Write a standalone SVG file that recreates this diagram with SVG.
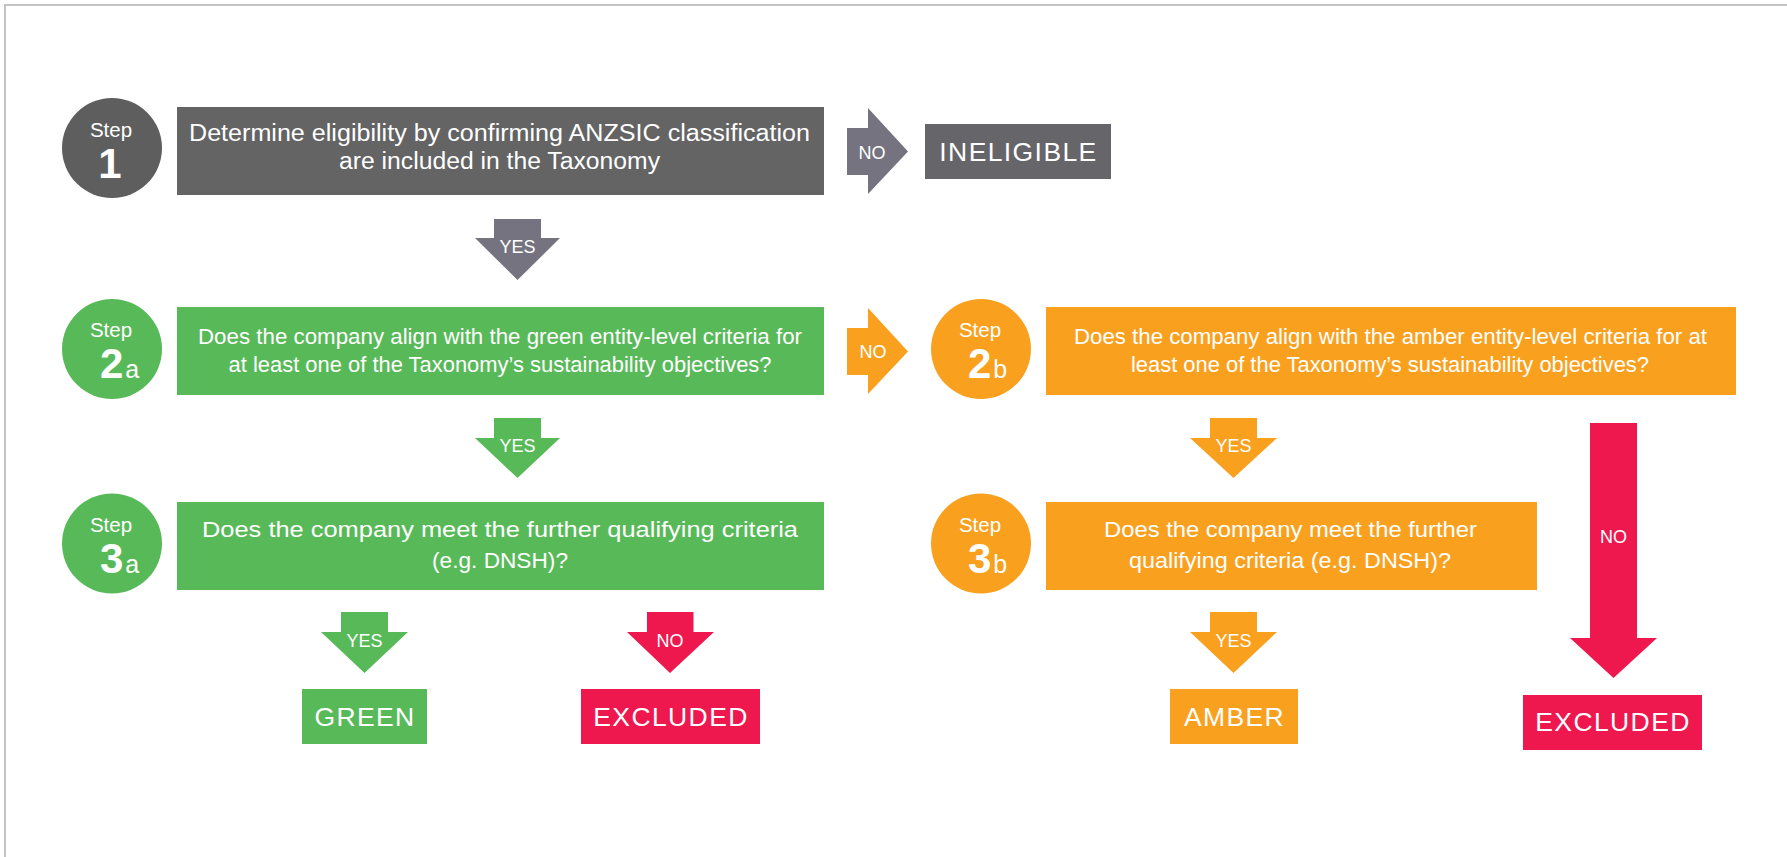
<svg xmlns="http://www.w3.org/2000/svg" width="1787" height="857" viewBox="0 0 1787 857">
<style>
.t{font-family:"Liberation Sans",Arial,sans-serif;fill:#fff}
.q{font-size:22.5px;text-anchor:middle}
.q1{font-size:23px;text-anchor:middle}
.step{font-size:20.5px;text-anchor:middle}
.num{font-size:42px;font-weight:bold}
.sub{font-size:25px}
.lab{font-size:18px;text-anchor:middle}
.out{font-size:26.5px;letter-spacing:1.4px;text-anchor:middle}
.grey{fill:#646464}
.greyc{fill:#5e5e5e}
.arrg{fill:#74737f}
.green{fill:#58b959}
.amber{fill:#f9a11f}
.red{fill:#ee184e}
</style>
<rect width="1787" height="857" fill="#fff"/>
<path d="M5,857 V5 H1787" fill="none" stroke="#c4c4c4" stroke-width="2"/>

<g id="connectors">
  <g id="c1-yes"><polygon class="arrg" points="494,219 541,219 541,238 560,238 517.5,280 475,238 494,238"/><text class="t lab" x="517.5" y="253">YES</text></g>
  <g id="c1-no"><polygon class="arrg" points="847,128 868,128 868,108 908,151.5 868,194 868,175 847,175"/><text class="t lab" x="872" y="159">NO</text></g>
  <g id="c2a-yes"><polygon class="green" points="494,418 541,418 541,438 560,438 517.5,478 475,438 494,438"/><text class="t lab" x="517.5" y="452">YES</text></g>
  <g id="c2a-no"><polygon class="amber" points="847,328 868,328 868,308 908,351.5 868,394 868,375 847,375"/><text class="t lab" x="873" y="358">NO</text></g>
  <g id="c3a-yes"><polygon class="green" points="341,612 388,612 388,632 408,632 364.5,673 321,632 341,632"/><text class="t lab" x="364.5" y="647">YES</text></g>
  <g id="c3a-no"><polygon class="red" points="647,612 693.5,612 693.5,632 714,632 670,673 627,632 647,632"/><text class="t lab" x="670" y="647">NO</text></g>
  <g id="c2b-yes"><polygon class="amber" points="1210,418 1257,418 1257,438 1277,438 1233.5,478 1190,438 1210,438"/><text class="t lab" x="1233.5" y="452">YES</text></g>
  <g id="c3b-yes"><polygon class="amber" points="1210,612 1257,612 1257,632 1277,632 1233.5,673 1190,632 1210,632"/><text class="t lab" x="1233.5" y="647">YES</text></g>
  <g id="c2b-no"><polygon class="red" points="1590,423 1637,423 1637,638 1657,638 1613.5,678 1570,638 1590,638"/><text class="t lab" x="1613.5" y="543">NO</text></g>
</g>

<g id="step1">
  <circle class="greyc" cx="112" cy="148" r="50"/>
  <text class="t step" x="111" y="137">Step</text>
  <text class="t num" x="110" y="178" text-anchor="middle">1</text>
  <rect class="grey" x="177" y="107" width="647" height="88"/>
  <text class="t q1" x="499.5" y="141" textLength="621" lengthAdjust="spacingAndGlyphs">Determine eligibility by confirming ANZSIC classification</text>
  <text class="t q1" x="499.5" y="169" textLength="321" lengthAdjust="spacingAndGlyphs">are included in the Taxonomy</text>
</g>
<g id="ineligible">
  <rect fill="#65656a" x="925" y="124" width="186" height="55"/>
  <text class="t out" x="1018.5" y="161">INELIGIBLE</text>
</g>

<g id="step2a">
  <circle class="green" cx="112" cy="349" r="50"/>
  <text class="t step" x="111" y="337">Step</text>
  <text class="t" x="100" y="378"><tspan class="num">2</tspan><tspan class="sub" dx="2">a</tspan></text>
  <rect class="green" x="177" y="307" width="647" height="88"/>
  <text class="t q" x="500" y="344" textLength="604" lengthAdjust="spacingAndGlyphs">Does the company align with the green entity-level criteria for</text>
  <text class="t q" x="500" y="372" textLength="543" lengthAdjust="spacingAndGlyphs">at least one of the Taxonomy’s sustainability objectives?</text>
</g>

<g id="step2b">
  <circle class="amber" cx="981" cy="349" r="50"/>
  <text class="t step" x="980" y="337">Step</text>
  <text class="t" x="968" y="378"><tspan class="num">2</tspan><tspan class="sub" dx="2">b</tspan></text>
  <rect class="amber" x="1046" y="307" width="690" height="88"/>
  <text class="t q" x="1390.5" y="344" textLength="633" lengthAdjust="spacingAndGlyphs">Does the company align with the amber entity-level criteria for at</text>
  <text class="t q" x="1390" y="372" textLength="518" lengthAdjust="spacingAndGlyphs">least one of the Taxonomy’s sustainability objectives?</text>
</g>

<g id="step3a">
  <circle class="green" cx="112" cy="543.5" r="50"/>
  <text class="t step" x="111" y="532">Step</text>
  <text class="t" x="100" y="573"><tspan class="num">3</tspan><tspan class="sub" dx="2">a</tspan></text>
  <rect class="green" x="177" y="502" width="647" height="88"/>
  <text class="t q" x="500" y="537" textLength="596" lengthAdjust="spacingAndGlyphs">Does the company meet the further qualifying criteria</text>
  <text class="t q" x="500" y="568" textLength="136" lengthAdjust="spacingAndGlyphs">(e.g. DNSH)?</text>
</g>

<g id="step3b">
  <circle class="amber" cx="981" cy="543.5" r="50"/>
  <text class="t step" x="980" y="532">Step</text>
  <text class="t" x="968" y="573"><tspan class="num">3</tspan><tspan class="sub" dx="2">b</tspan></text>
  <rect class="amber" x="1046" y="502" width="491" height="88"/>
  <text class="t q" x="1290.5" y="537" textLength="373" lengthAdjust="spacingAndGlyphs">Does the company meet the further</text>
  <text class="t q" x="1290" y="568" textLength="322" lengthAdjust="spacingAndGlyphs">qualifying criteria (e.g. DNSH)?</text>
</g>

<g id="green">
  <rect class="green" x="302" y="689" width="125" height="55"/>
  <text class="t out" x="365" y="726">GREEN</text>
</g>
<g id="excluded-a">
  <rect class="red" x="581" y="689" width="179" height="55"/>
  <text class="t out" x="671" y="726">EXCLUDED</text>
</g>
<g id="amber">
  <rect class="amber" x="1170" y="689" width="128" height="55"/>
  <text class="t out" x="1234.5" y="726">AMBER</text>
</g>
<g id="excluded-b">
  <rect class="red" x="1523" y="695" width="179" height="55"/>
  <text class="t out" x="1613" y="731">EXCLUDED</text>
</g>
</svg>
